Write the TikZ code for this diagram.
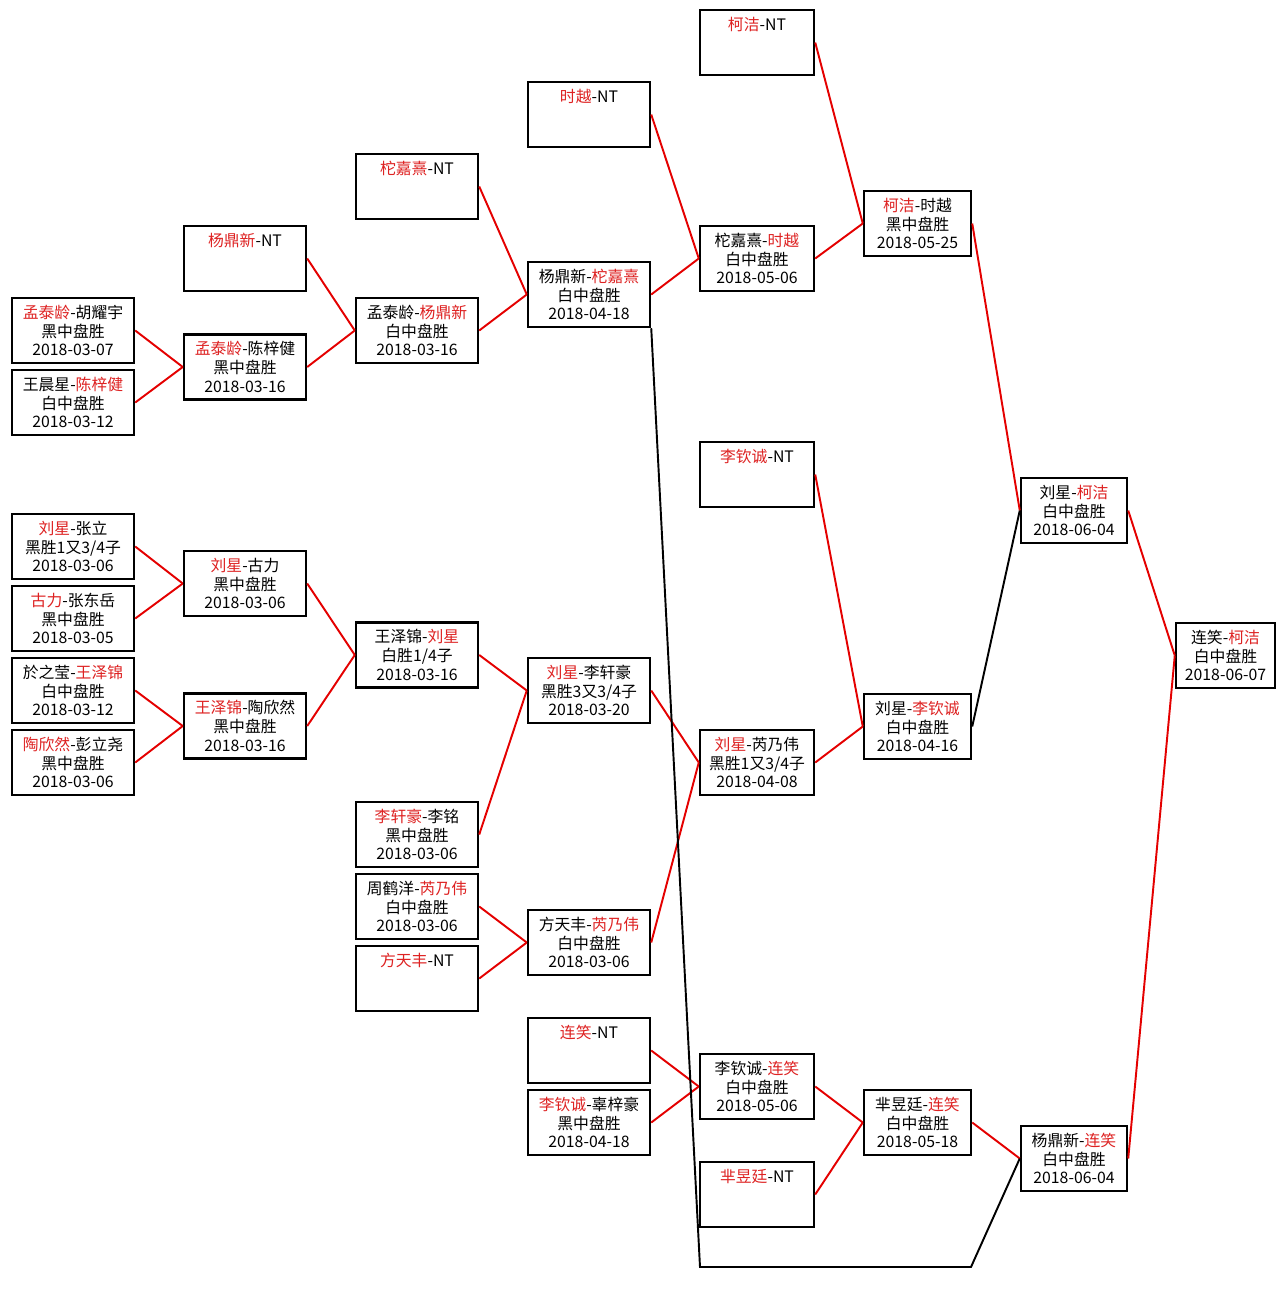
\documentclass[tikz,border=0pt]{standalone}
\usepackage{fontspec}
\usepackage{xcolor}
\usepackage{tikz}
\usetikzlibrary{positioning}
\newfontfamily\cjk{Noto Sans CJK SC}
\definecolor{winred}{RGB}{228, 0, 0}
\definecolor{namered}{RGB}{222, 34, 34}
\newcommand{\winner}[1]{\textcolor{namered}{#1}}
\tikzset{
 match/.style={
 rectangle,
 draw=black,
 fill=white,
 line width=1.4pt,
 align=center,
 minimum width=#1,
 minimum height=1.3cm,
 inner sep=0pt,
 font=\cjk\fontsize{9}{10.6}\selectfont
 },
 match/.default=2.44cm,
 winline/.style={line width=1.1pt, draw=winred},
 loseline/.style={line width=1.1pt, draw=black}
}

\begin{document}
\begin{tikzpicture}[x=0.2mm, y=-0.2mm]
 \useasboundingbox (0,0) rectangle (1285,1309);

 \node[match] (r1a) at (73,330.5) {\winner{孟泰龄}-胡耀宇\\黑中盘胜\\2018-03-07};
 \node[match] (r1b) at (73,402.5) {王晨星-\winner{陈梓健}\\白中盘胜\\2018-03-12};
 \node[match] (r1c) at (73,546.5) {\winner{刘星}-张立\\黑胜1又3/4子\\2018-03-06};
 \node[match] (r1d) at (73,618.5) {\winner{古力}-张东岳\\黑中盘胜\\2018-03-05};
 \node[match] (r1e) at (73,690.5) {於之莹-\winner{王泽锦}\\白中盘胜\\2018-03-12};
 \node[match] (r1f) at (73,762.5) {\winner{陶欣然}-彭立尧\\黑中盘胜\\2018-03-06};

 \node[match] (r2a) at (245,258.5) {\winner{杨鼎新}-NT\\\phantom{0}\\\phantom{0}};
 \node[match] (r2b) at (245,367) {\winner{孟泰龄}-陈梓健\\黑中盘胜\\2018-03-16};
 \node[match] (r2c) at (245,583.5) {\winner{刘星}-古力\\黑中盘胜\\2018-03-06};
 \node[match] (r2d) at (245,726) {\winner{王泽锦}-陶欣然\\黑中盘胜\\2018-03-16};

 \node[match] (r3a) at (417,186.5) {\winner{柁嘉熹}-NT\\\phantom{0}\\\phantom{0}};
 \node[match] (r3b) at (417,330.5) {孟泰龄-\winner{杨鼎新}\\白中盘胜\\2018-03-16};
 \node[match] (r3c) at (417,655) {王泽锦-\winner{刘星}\\白胜1/4子\\2018-03-16};
 \node[match] (r3d) at (417,834.5) {\winner{李轩豪}-李铭\\黑中盘胜\\2018-03-06};
 \node[match] (r3e) at (417,906.5) {周鹤洋-\winner{芮乃伟}\\白中盘胜\\2018-03-06};
 \node[match] (r3f) at (417,978.5) {\winner{方天丰}-NT\\\phantom{0}\\\phantom{0}};

 \node[match] (r4a) at (589,114.5) {\winner{时越}-NT\\\phantom{0}\\\phantom{0}};
 \node[match] (r4b) at (589,294.5) {杨鼎新-\winner{柁嘉熹}\\白中盘胜\\2018-04-18};
 \node[match] (r4c) at (589,690.5) {\winner{刘星}-李轩豪\\黑胜3又3/4子\\2018-03-20};
 \node[match] (r4d) at (589,942.5) {方天丰-\winner{芮乃伟}\\白中盘胜\\2018-03-06};
 \node[match] (r4e) at (589,1050.5) {\winner{连笑}-NT\\\phantom{0}\\\phantom{0}};
 \node[match] (r4f) at (589,1122.5) {\winner{李钦诚}-辜梓豪\\黑中盘胜\\2018-04-18};

 \node[match=2.28cm] (r5a) at (757,42.5) {\winner{柯洁}-NT\\\phantom{0}\\\phantom{0}};
 \node[match=2.28cm] (r5b) at (757,258.5) {柁嘉熹-\winner{时越}\\白中盘胜\\2018-05-06};
 \node[match=2.28cm] (r5c) at (757,474.5) {\winner{李钦诚}-NT\\\phantom{0}\\\phantom{0}};
 \node[match=2.28cm] (r5d) at (757,762.5) {\winner{刘星}-芮乃伟\\黑胜1又3/4子\\2018-04-08};
 \node[match=2.28cm] (r5e) at (757,1086.5) {李钦诚-\winner{连笑}\\白中盘胜\\2018-05-06};
 \node[match=2.28cm] (r5f) at (757,1194.5) {\winner{芈昱廷}-NT\\\phantom{0}\\\phantom{0}};

 \node[match=2.14cm] (r6a) at (917.5,223.5) {\winner{柯洁}-时越\\黑中盘胜\\2018-05-25};
 \node[match=2.14cm] (r6b) at (917.5,726.5) {刘星-\winner{李钦诚}\\白中盘胜\\2018-04-16};
 \node[match=2.14cm] (r6c) at (917.5,1122.5) {芈昱廷-\winner{连笑}\\白中盘胜\\2018-05-18};

 \node[match=2.12cm] (r7a) at (1074,510.5) {刘星-\winner{柯洁}\\白中盘胜\\2018-06-04};
 \node[match=2.12cm] (r7b) at (1074,1158.5) {杨鼎新-\winner{连笑}\\白中盘胜\\2018-06-04};

 \node[match=1.98cm] (final) at (1225.5,655.5) {连笑-\winner{柯洁}\\白中盘胜\\2018-06-07};

 \coordinate (bendL) at (700,1267);
 \coordinate (bendR) at (971,1267);

 \draw[winline] (r1a.east) -- (r2b.west);
 \draw[winline] (r1b.east) -- (r2b.west);
 \draw[winline] (r1c.east) -- (r2c.west);
 \draw[winline] (r1d.east) -- (r2c.west);
 \draw[winline] (r1e.east) -- (r2d.west);
 \draw[winline] (r1f.east) -- (r2d.west);

 \draw[winline] (r2a.east) -- (r3b.west);
 \draw[winline] (r2b.east) -- (r3b.west);
 \draw[winline] (r2c.east) -- (r3c.west);
 \draw[winline] (r2d.east) -- (r3c.west);

 \draw[winline] (r3a.east) -- (r4b.west);
 \draw[winline] (r3b.east) -- (r4b.west);
 \draw[winline] (r3c.east) -- (r4c.west);
 \draw[winline] (r3d.east) -- (r4c.west);
 \draw[winline] (r3e.east) -- (r4d.west);
 \draw[winline] (r3f.east) -- (r4d.west);

 \draw[winline] (r4a.east) -- (r5b.west);
 \draw[winline] (r4b.east) -- (r5b.west);
 \draw[winline] (r4c.east) -- (r5d.west);
 \draw[winline] (r4d.east) -- (r5d.west);
 \draw[winline] (r4e.east) -- (r5e.west);
 \draw[winline] (r4f.east) -- (r5e.west);

 \draw[winline] (r5a.east) -- (r6a.west);
 \draw[winline] (r5b.east) -- (r6a.west);
 \draw[winline] (r5c.east) -- (r6b.west);
 \draw[winline] (r5d.east) -- (r6b.west);
 \draw[winline] (r5e.east) -- (r6c.west);
 \draw[winline] (r5f.east) -- (r6c.west);

 \draw[winline] (r6a.east) -- (r7a.west);
 \draw[loseline] (r6b.east) -- (r7a.west);
 \draw[winline] (r6c.east) -- (r7b.west);
 \draw[loseline] (r4b.south east) -- (bendL) -- (bendR) -- (r7b.west);

 \draw[winline] (r7a.east) -- (final.west);
 \draw[winline] (r7b.east) -- (final.west);
\end{tikzpicture}
\end{document}
